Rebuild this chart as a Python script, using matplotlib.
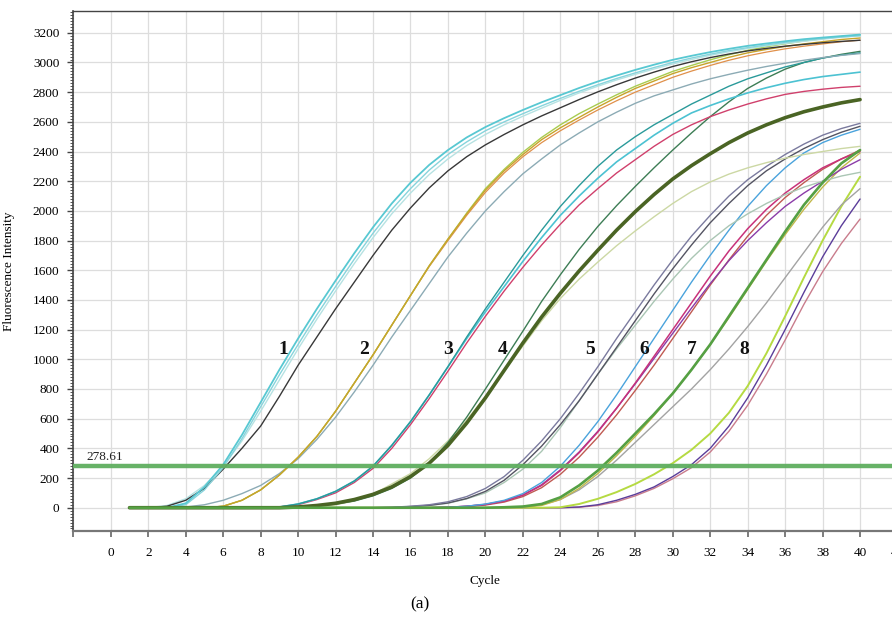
import matplotlib
matplotlib.use("Agg")
import matplotlib.pyplot as plt
from matplotlib.ticker import MultipleLocator

plt.rcParams['font.family'] = ['Liberation Serif', 'DejaVu Serif']

# cycles 1..40
cycles = list(range(1, 41))

# group 1
g1_cyan = [0]*3 + [30, 140, 290, 490, 710, 930, 1140, 1340, 1530, 1715, 1890, 2050, 2190, 2310, 2410, 2495, 2565, 2625, 2680, 2732, 2780, 2828, 2872, 2912, 2950, 2985, 3018, 3045, 3070, 3092, 3112, 3128, 3143, 3157, 3168, 3178, 3188]
g1_cyan_light = [0]*3 + [20, 120, 270, 465, 680, 895, 1100, 1300, 1490, 1675, 1850, 2010, 2150, 2275, 2380, 2465, 2540, 2600, 2655, 2708, 2758, 2806, 2850, 2892, 2930, 2966, 3000, 3030, 3056, 3080, 3100, 3118, 3135, 3150, 3162, 3172, 3180]
g1_pale = [0]*2 + [15, 60, 150, 280, 450, 650, 860, 1070, 1270, 1460, 1645, 1820, 1980, 2120, 2245, 2350, 2440, 2515, 2580, 2638, 2692, 2745, 2795, 2840, 2882, 2920, 2956, 2990, 3020, 3048, 3072, 3094, 3112, 3128, 3143, 3157, 3170, 3180]
g1_black = [0]*2 + [10, 50, 130, 260, 400, 550, 750, 960, 1150, 1340, 1520, 1700, 1870, 2020, 2155, 2270, 2365, 2445, 2515, 2580, 2640, 2695, 2750, 2802, 2850, 2895, 2935, 2973, 3005, 3033, 3057, 3078, 3095, 3110, 3122, 3133, 3142, 3150]

# group 2
g2_gold = [0]*5 + [10, 50, 120, 220, 340, 480, 650, 840, 1030, 1230, 1430, 1630, 1810, 1980, 2140, 2270, 2380, 2480, 2560, 2630, 2700, 2765, 2825, 2875, 2925, 2965, 3000, 3035, 3065, 3088, 3108, 3125, 3140, 3155, 3165]
g2_yellowgreen = [0]*5 + [10, 50, 120, 220, 340, 480, 650, 840, 1030, 1230, 1430, 1630, 1810, 1985, 2150, 2280, 2395, 2495, 2580, 2655, 2720, 2782, 2840, 2890, 2940, 2980, 3018, 3052, 3082, 3106, 3126, 3145, 3160, 3175, 3185]
g2_orange = [0]*5 + [10, 50, 120, 220, 340, 480, 650, 840, 1030, 1230, 1430, 1625, 1800, 1970, 2125, 2255, 2365, 2460, 2540, 2612, 2680, 2742, 2800, 2850, 2900, 2942, 2980, 3015, 3045, 3070, 3092, 3110, 3125, 3140, 3150]
g2_slate = [0]*3 + [5, 20, 50, 95, 150, 230, 330, 460, 610, 780, 960, 1150, 1330, 1510, 1690, 1850, 2000, 2130, 2250, 2350, 2445, 2525, 2600, 2665, 2725, 2775, 2815, 2855, 2890, 2920, 2948, 2973, 2995, 3015, 3033, 3048, 3060]

# group 3
g3_teal = [0]*8 + [5, 25, 60, 110, 180, 280, 420, 580, 760, 950, 1150, 1340, 1520, 1700, 1870, 2030, 2170, 2300, 2410, 2500, 2580, 2650, 2720, 2780, 2840, 2890, 2930, 2970, 3000, 3030, 3050, 3065]
g3_cyan = [0]*8 + [5, 25, 60, 110, 180, 280, 420, 580, 760, 950, 1140, 1320, 1490, 1660, 1820, 1970, 2100, 2220, 2330, 2420, 2510, 2590, 2660, 2710, 2755, 2795, 2830, 2860, 2885, 2905, 2920, 2935]
g3_pink = [0]*8 + [5, 20, 55, 100, 170, 265, 400, 560, 735, 920, 1110, 1290, 1460, 1620, 1770, 1910, 2040, 2150, 2255, 2345, 2435, 2515, 2580, 2635, 2680, 2720, 2755, 2785, 2805, 2820, 2832, 2840]

# group 4
g4_olive = [0]*9 + [5, 15, 30, 55, 90, 140, 210, 300, 420, 570, 740, 925, 1110, 1285, 1445, 1595, 1735, 1870, 1995, 2110, 2215, 2305, 2385, 2460, 2525, 2580, 2628, 2668, 2700, 2728, 2750]
g4_green = [0]*9 + [5, 12, 25, 45, 80, 130, 200, 300, 440, 610, 800, 995, 1190, 1390, 1570, 1740, 1895, 2035, 2165, 2290, 2410, 2525, 2635, 2735, 2825, 2895, 2955, 3000, 3030, 3055, 3075]
g4_khaki = [0]*10 + [5, 20, 45, 90, 160, 230, 330, 450, 590, 750, 920, 1090, 1260, 1410, 1540, 1655, 1765, 1865, 1960, 2050, 2130, 2195, 2248, 2290, 2325, 2355, 2380, 2400, 2420, 2435]

# group 5
g5_grayblue = [0]*14 + [3, 10, 20, 40, 75, 130, 210, 320, 450, 600, 770, 950, 1140, 1320, 1500, 1670, 1830, 1970, 2100, 2210, 2300, 2380, 2450, 2510, 2555, 2590]
g5_gray = [0]*14 + [2, 8, 16, 32, 62, 110, 185, 290, 415, 560, 720, 900, 1080, 1260, 1440, 1610, 1770, 1920, 2050, 2170, 2270, 2350, 2420, 2480, 2530, 2570]
g5_sage = [0]*15 + [5, 15, 30, 60, 100, 170, 260, 380, 540, 720, 900, 1070, 1230, 1390, 1540, 1680, 1800, 1900, 1980, 2050, 2110, 2160, 2200, 2235, 2260]

# group 6
g6_blue = [0]*17 + [3, 10, 25, 50, 95, 170, 280, 420, 580, 760, 950, 1140, 1330, 1520, 1700, 1870, 2030, 2170, 2290, 2390, 2460, 2510, 2550]
g6_magenta = [0]*17 + [3, 10, 22, 45, 85, 150, 250, 370, 510, 670, 840, 1020, 1200, 1380, 1560, 1730, 1880, 2010, 2120, 2210, 2290, 2350, 2400]
g6_purple = [0]*17 + [3, 10, 22, 45, 85, 155, 255, 375, 515, 670, 835, 1005, 1175, 1345, 1510, 1665, 1800, 1920, 2030, 2120, 2200, 2280, 2345]
g6_brown = [0]*17 + [2, 8, 18, 38, 75, 135, 225, 340, 475, 625, 790, 960, 1140, 1320, 1500, 1670, 1830, 1970, 2090, 2190, 2280, 2350, 2410]

# group 7
g7_green = [0]*20 + [3, 8, 25, 70, 150, 250, 370, 500, 630, 770, 930, 1100, 1290, 1480, 1670, 1860, 2040, 2190, 2320, 2410]
g7_olive = [0]*21 + [3, 15, 55, 130, 230, 350, 480, 620, 770, 930, 1100, 1280, 1470, 1660, 1840, 2010, 2160, 2290, 2390]
g7_gray = [0]*21 + [5, 20, 55, 120, 210, 320, 440, 560, 680, 800, 930, 1070, 1220, 1380, 1550, 1720, 1890, 2040, 2150]

# group 8
g8_lime = [0]*23 + [3, 25, 60, 105, 160, 225, 300, 390, 500, 640, 820, 1040, 1290, 1550, 1800, 2030, 2230]
g8_purple = [0]*24 + [5, 20, 50, 90, 140, 210, 290, 400, 550, 740, 960, 1200, 1450, 1690, 1900, 2080]
g8_pink = [0]*24 + [3, 15, 40, 80, 130, 195, 270, 375, 515, 690, 900, 1130, 1370, 1590, 1780, 1945]

threshold = 278.61
group_labels = ['1', '2', '3', '4', '5', '6', '7', '8']
label_cycles = [9.2, 13.5, 18.0, 20.9, 25.6, 28.5, 31.0, 33.8]
label_value = 1065

# (series, color, linewidth, zorder)
curves = [
    (g8_pink, '#c97c8c', 1.0, 2), (g8_purple, '#5b3d9a', 1.0, 2), (g8_lime, '#b5da42', 1.4, 2),
    (g7_gray, '#a3a3a3', 1.0, 2), (g7_olive, '#c2b84a', 1.0, 2),
    (g6_brown, '#c05a52', 1.0, 2), (g6_purple, '#8b3ca8', 1.0, 2), (g6_magenta, '#c8327a', 1.1, 2), (g6_blue, '#4aa3dc', 1.0, 2),
    (g5_sage, '#aac6b4', 1.0, 2), (g5_gray, '#545462', 1.0, 2), (g5_grayblue, '#7a7a9e', 1.0, 2),
    (g4_khaki, '#ccd8a4', 1.0, 2), (g4_green, '#3d7d55', 1.0, 2),
    (g3_pink, '#d0406c', 1.0, 2), (g3_cyan, '#4cc2d2', 1.2, 2), (g3_teal, '#2a9a9a', 1.0, 2),
    (g2_slate, '#8cabb5', 1.0, 2), (g2_orange, '#e0904a', 0.9, 2), (g2_yellowgreen, '#a8cc50', 1.0, 2), (g2_gold, '#c8a42a', 1.0, 2),
    (g1_pale, '#b6e2e2', 1.0, 2), (g1_black, '#383838', 1.0, 2), (g1_cyan_light, '#86d4dc', 1.0, 2), (g1_cyan, '#58c8d2', 1.3, 2),
    (g4_olive, '#4a6424', 2.6, 2.1),
    (g7_green, '#55a043', 1.9, 2.2),
]

fig = plt.figure(figsize=(8.92, 6.21), dpi=100)
ax = fig.add_axes([0.0822, 0.1449, 0.924, 0.8374])

for vals, col, lw, z in curves:
    ax.plot(cycles, vals, color=col, lw=lw, zorder=z, solid_capstyle='round')

ax.axhline(threshold, color='#5fae5f', lw=3.2, alpha=0.95, zorder=3)
ax.text(-1.3, threshold + 25, f'{threshold:.2f}', fontsize=9.5, color='#222222', va='bottom')

for lab, cx in zip(group_labels, label_cycles):
    ax.text(cx, label_value, lab, fontsize=14, fontweight='bold', ha='center', va='center', color='#111111', zorder=4)

ax.set_xlim(-2, 42)
ax.set_ylim(-157, 3347)

ax.set_xticks(range(-2, 43, 2))
ax.set_xticklabels([''] + [str(v) for v in range(0, 43, 2)])
ax.set_yticks(range(0, 3201, 200))
ax.yaxis.set_minor_locator(MultipleLocator(20))

ax.grid(True, which='major', color='#dddddd', lw=0.9)
ax.set_axisbelow(True)

ax.tick_params(axis='x', which='major', length=4.5, width=1.2, color='#666666', pad=7, labelsize=9.5)
ax.tick_params(axis='y', which='major', length=4.5, width=1.0, color='#444444', pad=5.5, labelsize=9.5)
ax.tick_params(axis='y', which='minor', length=2.5, width=0.7, color='#555555')

ax.spines['left'].set_color('#444444')
ax.spines['left'].set_linewidth(1.2)
ax.spines['top'].set_color('#444444')
ax.spines['top'].set_linewidth(1.0)
ax.spines['bottom'].set_color('#777777')
ax.spines['bottom'].set_linewidth(1.6)
ax.spines['right'].set_visible(False)

ax.set_xlabel('Cycle', fontsize=9.5)
ax.set_ylabel('Fluorescence Intensity', fontsize=9.5)
ax.xaxis.set_label_coords(0.5, -0.085)
ax.yaxis.set_label_coords(-0.0705, 0.5)

fig.text(0.471, 0.026, '(a)', fontsize=12.5, ha='center', va='center')

fig.savefig('out.png', dpi=100)
